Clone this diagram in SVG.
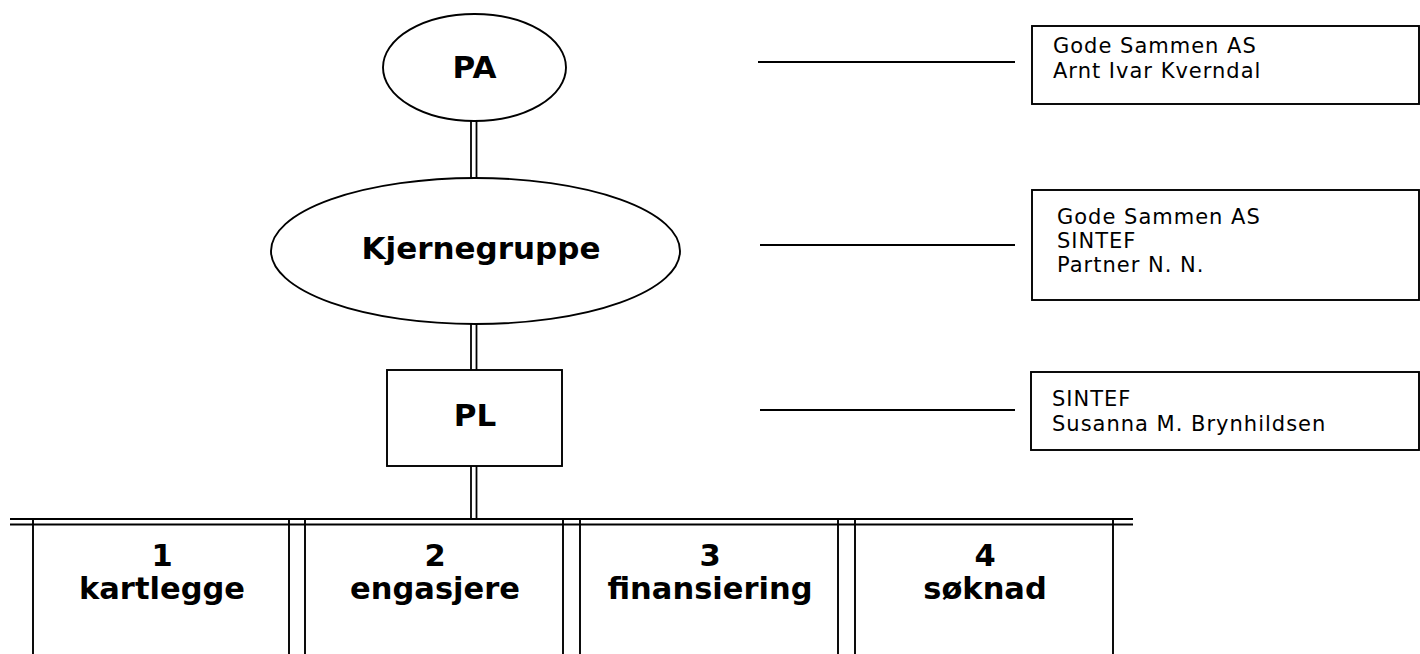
<svg xmlns="http://www.w3.org/2000/svg" width="1420" height="654" viewBox="0 0 1420 654">
<style>
  .shape { fill: #fff; stroke: #000; stroke-width: 1.9; }
  .ln { stroke: #000; stroke-width: 1.9; fill: none; }
  .dbl { stroke: #000; stroke-width: 1.8; fill: none; }
  .big { font-family: "DejaVu Sans", Verdana, sans-serif; font-weight: bold; font-size: 31px; fill: #000; text-anchor: middle; }
  .task { font-family: "DejaVu Sans", Verdana, sans-serif; font-weight: bold; font-size: 30.5px; fill: #000; text-anchor: middle; }
  .small { font-family: "DejaVu Sans", Verdana, sans-serif; font-size: 21px; letter-spacing: 1px; fill: #000; }
</style>
<rect width="1420" height="654" fill="#fff"/>
<g id="connectors">
  <line class="dbl" x1="471" y1="121" x2="471" y2="178"/>
  <line class="dbl" x1="476.5" y1="121" x2="476.5" y2="178"/>
  <line class="dbl" x1="471" y1="324" x2="471" y2="370"/>
  <line class="dbl" x1="476.5" y1="324" x2="476.5" y2="370"/>
  <line class="dbl" x1="471" y1="466" x2="471" y2="519"/>
  <line class="dbl" x1="476.5" y1="466" x2="476.5" y2="519"/>
  <line class="ln" x1="10" y1="519" x2="1133" y2="519" stroke-width="2.6"/>
  <line class="ln" x1="10" y1="524.5" x2="1133" y2="524.5" stroke-width="2"/>
  <line class="ln" x1="758" y1="62" x2="1015" y2="62"/>
  <line class="ln" x1="760" y1="245" x2="1015" y2="245"/>
  <line class="ln" x1="760" y1="410" x2="1015" y2="410"/>
</g>
<g id="pa">
  <ellipse class="shape" cx="474.5" cy="67.5" rx="91.5" ry="53.5"/>
  <text class="big" x="474.5" y="78">PA</text>
</g>
<g id="kjernegruppe">
  <ellipse class="shape" cx="475.5" cy="251" rx="204.5" ry="73"/>
  <text class="big" x="481" y="259" font-size="33">Kjernegruppe</text>
</g>
<g id="pl">
  <rect class="shape" x="387" y="370" width="175" height="96"/>
  <text class="big" x="475" y="426">PL</text>
</g>
<g id="task1">
  <line class="ln" x1="33" y1="519" x2="33" y2="654"/>
  <line class="ln" x1="289" y1="519" x2="289" y2="654"/>
  <text class="task" x="162" y="566">1</text>
  <text class="task" x="162" y="599">kartlegge</text>
</g>
<g id="task2">
  <line class="ln" x1="305" y1="519" x2="305" y2="654"/>
  <line class="ln" x1="563" y1="519" x2="563" y2="654"/>
  <text class="task" x="435" y="566">2</text>
  <text class="task" x="435" y="599">engasjere</text>
</g>
<g id="task3">
  <line class="ln" x1="580" y1="519" x2="580" y2="654"/>
  <line class="ln" x1="838" y1="519" x2="838" y2="654"/>
  <text class="task" x="710" y="566">3</text>
  <text class="task" x="710" y="599">finansiering</text>
</g>
<g id="task4">
  <line class="ln" x1="855" y1="519" x2="855" y2="654"/>
  <line class="ln" x1="1113" y1="519" x2="1113" y2="654"/>
  <text class="task" x="985" y="566">4</text>
  <text class="task" x="985" y="599">søknad</text>
</g>
<g id="info-pa">
  <rect class="shape" x="1032" y="26" width="387" height="78"/>
  <text class="small" x="1053" y="53">Gode Sammen AS</text>
  <text class="small" x="1053" y="78">Arnt Ivar Kverndal</text>
</g>
<g id="info-kjerne">
  <rect class="shape" x="1032" y="190" width="387" height="110"/>
  <text class="small" x="1057" y="224">Gode Sammen AS</text>
  <text class="small" x="1057" y="248">SINTEF</text>
  <text class="small" x="1057" y="272">Partner N. N.</text>
</g>
<g id="info-pl">
  <rect class="shape" x="1031" y="372" width="388" height="78"/>
  <text class="small" x="1052" y="406">SINTEF</text>
  <text class="small" x="1052" y="431">Susanna M. Brynhildsen</text>
</g>
</svg>
